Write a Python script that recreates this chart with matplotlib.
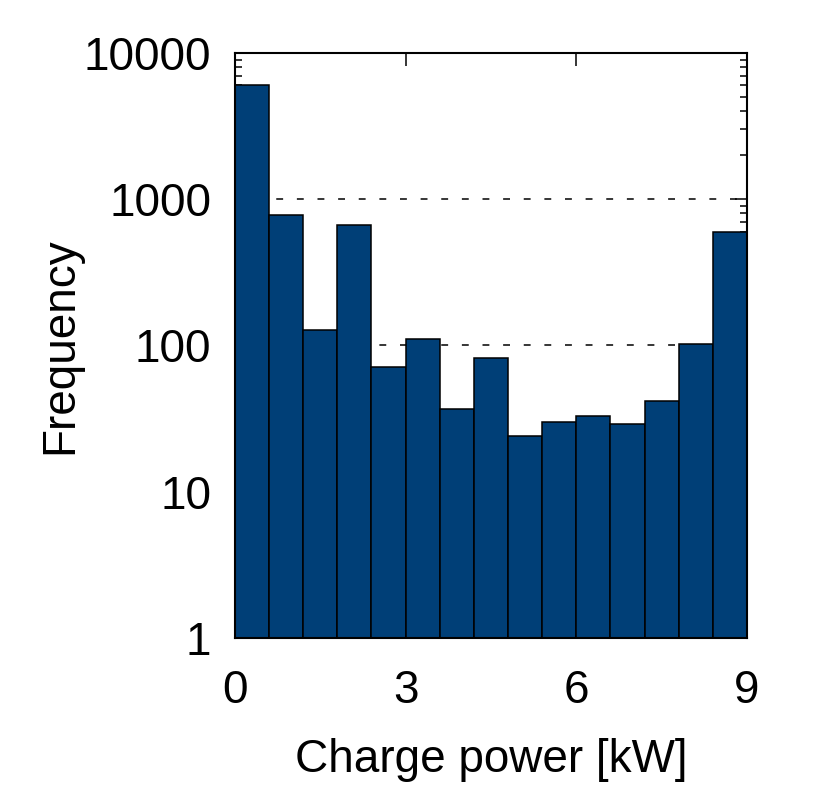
import numpy as np
import matplotlib
matplotlib.use('Agg')
import matplotlib.pyplot as plt
from matplotlib.ticker import LogLocator, NullFormatter, FixedLocator

#==============================================================================
# data
#==============================================================================
bin_edges = [0.0, 0.6, 1.2, 1.8, 2.4, 3.0, 3.6, 4.2, 4.8, 5.4, 6.0, 6.6, 7.2, 7.8, 8.4, 9.0]
counts = [6000, 785, 127, 662, 70, 109, 36, 81, 23, 29, 32, 28, 41, 101, 596]
xticks = [0, 3, 6, 9]
yticks = [1, 10, 100, 1000, 10000]
ytick_labels = ['1', '10', '100', '1000', '10000']

plt.rcParams['font.family'] = ['Liberation Sans', 'DejaVu Sans']

fig = plt.figure(figsize=(8.3, 7.87), dpi=100)
ax = fig.add_axes([0.283, 0.1893, 0.6169, 0.7434])

left = np.array(bin_edges[:-1])
width = np.diff(bin_edges)
ax.bar(left, counts, width=width, align='edge', bottom=1,
       color='#003f77', edgecolor='black', linewidth=1.1, zorder=2)

ax.set_yscale('log')
ax.set_xlim(0, 9)
ax.set_ylim(1, 10000)

# dashed grid on major y ticks, behind the bars
ax.yaxis.grid(True, which='major', linestyle=(0, (4.5, 9)), color='black',
              linewidth=1.1, zorder=0)
ax.set_axisbelow(True)

ax.xaxis.set_major_locator(FixedLocator(xticks))
ax.set_yticks(yticks)
ax.set_yticklabels(ytick_labels)
ax.yaxis.set_minor_locator(LogLocator(base=10, subs=np.arange(2, 10)))
ax.yaxis.set_minor_formatter(NullFormatter())

ax.tick_params(which='both', direction='in', top=True, right=True,
               labelsize=33, width=1.1, color='black')
ax.tick_params(which='major', length=9)
ax.tick_params(which='minor', length=5)
ax.tick_params(axis='x', pad=22)
ax.tick_params(axis='y', pad=17)

for sp in ax.spines.values():
    sp.set_linewidth(1.5)
    sp.set_zorder(5)

ax.set_xlabel('Charge power [kW]', fontsize=33, labelpad=18)
ax.set_ylabel('Frequency', fontsize=33, labelpad=1)

fig.savefig('out.png', dpi=100)
